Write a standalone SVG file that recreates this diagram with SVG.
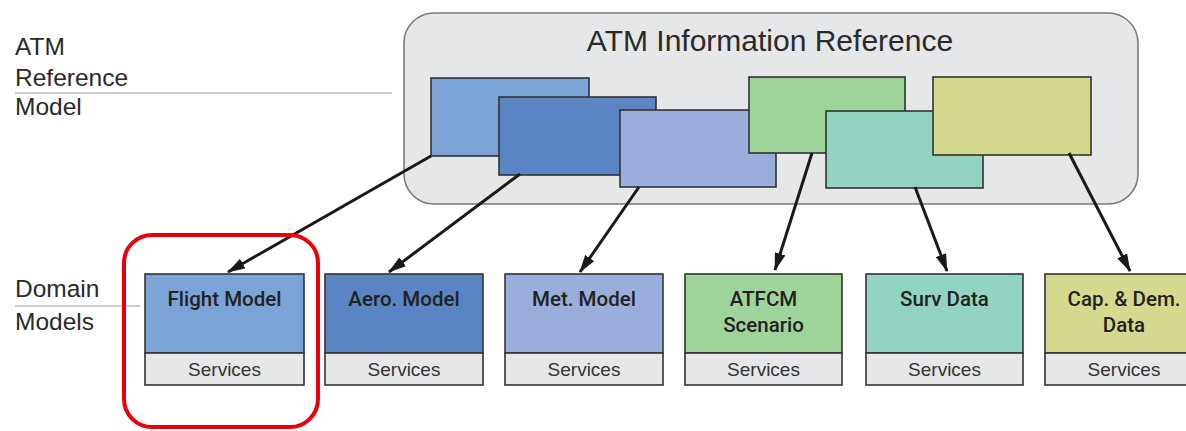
<svg xmlns="http://www.w3.org/2000/svg" width="1186" height="431" viewBox="0 0 1186 431">
  <defs>
    <marker id="arrow" viewBox="0 0 18 11" refX="17" refY="5.5" markerWidth="18" markerHeight="11" markerUnits="userSpaceOnUse" orient="auto">
      <path d="M0,0 L18,5.5 L0,11 Z" fill="#1a1a1a"/>
    </marker>
    <style>
      .lbl { font-family: "Liberation Sans", Arial, sans-serif; fill: #2a2a2a; }
      .side { font-size: 24.5px; }
      .title { font-size: 30px; text-anchor: middle; }
      .name { font-family: Roboto, "Liberation Sans", sans-serif; font-size: 20.5px; font-weight: 500; text-anchor: middle; fill: #222; }
      .svc { font-size: 19px; text-anchor: middle; fill: #333; }
      .box { stroke: #333; stroke-width: 1.6; }
      .services { fill: #e6e7e8; stroke: #333; stroke-width: 1.6; }
      .rule { stroke: #999; stroke-width: 1.2; }
      .conn { stroke: #1a1a1a; stroke-width: 3; fill: none; marker-end: url(#arrow); }
      .blue1 { fill: #7ba3d6; }
      .blue2 { fill: #5b84c4; }
      .blue3 { fill: #9aaedb; }
      .green { fill: #9ed49a; }
      .teal { fill: #92d3c2; }
      .olive { fill: #d5d98e; }
    </style>
  </defs>

  <rect width="1186" height="431" fill="#ffffff"/>

  <!-- Layer labels -->
  <g id="layer-labels">
    <text class="lbl side" x="15" y="55">ATM</text>
    <text class="lbl side" x="15" y="86">Reference</text>
    <line class="rule" x1="15" y1="93" x2="392" y2="93"/>
    <text class="lbl side" x="15" y="115">Model</text>
    <text class="lbl side" x="15" y="297">Domain</text>
    <line class="rule" x1="15" y1="306" x2="140" y2="306"/>
    <text class="lbl side" x="15" y="330">Models</text>
  </g>

  <!-- Reference container with its overlapping model sheets -->
  <g id="atm-information-reference">
    <rect x="404" y="13" width="734" height="191" rx="30" fill="#e6e7e8" stroke="#7a7a7a" stroke-width="1.6"/>
    <text class="lbl title" x="770" y="51">ATM Information Reference</text>
    <rect class="box blue1" x="431" y="78" width="158" height="78"/>
    <rect class="box blue2" x="499" y="97" width="157" height="78"/>
    <rect class="box blue3" x="620" y="110" width="156" height="77"/>
    <rect class="box green" x="749" y="77" width="156" height="76"/>
    <rect class="box teal" x="826" y="111" width="157" height="77"/>
    <rect class="box olive" x="933" y="77" width="158" height="78"/>
  </g>

  <!-- Connectors from reference sheets down to domain models -->
  <g id="connectors">
    <line class="conn" x1="431" y1="156" x2="228" y2="272"/>
    <line class="conn" x1="520" y1="174" x2="389" y2="272"/>
    <line class="conn" x1="639" y1="187" x2="580" y2="272"/>
    <line class="conn" x1="812" y1="153" x2="775" y2="270"/>
    <line class="conn" x1="915" y1="187" x2="947" y2="271"/>
    <line class="conn" x1="1069" y1="153" x2="1130" y2="271"/>
  </g>

  <!-- Domain models -->
  <g id="flight-model">
    <rect class="box blue1" x="145" y="274" width="159" height="79"/>
    <rect class="services" x="145" y="353" width="159" height="32"/>
    <text class="name" x="224.5" y="306">Flight Model</text>
    <text class="lbl svc" x="224.5" y="376">Services</text>
  </g>
  <g id="aero-model">
    <rect class="box blue2" x="325" y="274" width="158" height="79"/>
    <rect class="services" x="325" y="353" width="158" height="32"/>
    <text class="name" x="404" y="306">Aero. Model</text>
    <text class="lbl svc" x="404" y="376">Services</text>
  </g>
  <g id="met-model">
    <rect class="box blue3" x="505" y="274" width="158" height="79"/>
    <rect class="services" x="505" y="353" width="158" height="32"/>
    <text class="name" x="584" y="306">Met. Model</text>
    <text class="lbl svc" x="584" y="376">Services</text>
  </g>
  <g id="atfcm-scenario">
    <rect class="box green" x="685" y="274" width="157" height="79"/>
    <rect class="services" x="685" y="353" width="157" height="32"/>
    <text class="name" x="763.5" y="306">ATFCM</text>
    <text class="name" x="763.5" y="332">Scenario</text>
    <text class="lbl svc" x="763.5" y="376">Services</text>
  </g>
  <g id="surv-data">
    <rect class="box teal" x="866" y="274" width="157" height="79"/>
    <rect class="services" x="866" y="353" width="157" height="32"/>
    <text class="name" x="944.5" y="306">Surv Data</text>
    <text class="lbl svc" x="944.5" y="376">Services</text>
  </g>
  <g id="cap-dem-data">
    <rect class="box olive" x="1045" y="274" width="158" height="79"/>
    <rect class="services" x="1045" y="353" width="158" height="32"/>
    <text class="name" x="1124" y="306">Cap. &amp; Dem.</text>
    <text class="name" x="1124" y="332">Data</text>
    <text class="lbl svc" x="1124" y="376">Services</text>
  </g>

  <!-- Highlight around the flight model -->
  <g id="highlight">
    <rect x="124" y="235" width="194" height="192" rx="28" fill="none" stroke="#e8000b" stroke-width="4"/>
  </g>
</svg>
